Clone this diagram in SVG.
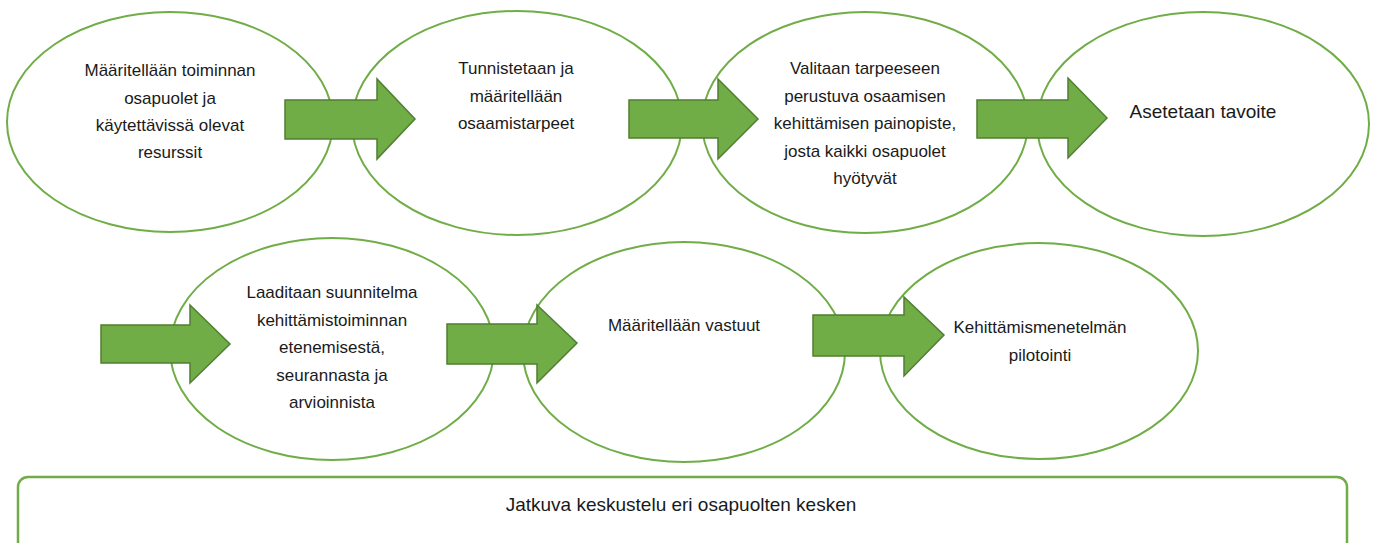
<svg xmlns="http://www.w3.org/2000/svg" width="1376" height="543" viewBox="0 0 1376 543">
<style>
.ell{fill:#ffffff;stroke:#70AD47;stroke-width:2}
.arr{fill:#70AD47;stroke:#507E32;stroke-width:1.5;stroke-linejoin:miter}
.t{font-family:"Liberation Sans",Arial,sans-serif;font-size:17px;fill:#1a1a1a;text-anchor:middle}
.tl{font-size:19px}
.box{fill:#ffffff;stroke:#70AD47;stroke-width:2.5}
</style>
<rect width="1376" height="543" fill="#ffffff"/>
<g id="n1"><ellipse class="ell" cx="170" cy="122" rx="163" ry="110"/>
<text class="t"><tspan x="170" y="76">Määritellään toiminnan</tspan><tspan x="170" y="103.5">osapuolet ja</tspan><tspan x="170" y="131">käytettävissä olevat</tspan><tspan x="170" y="158">resurssit</tspan></text></g>
<g id="n2"><ellipse class="ell" cx="517" cy="123" rx="165" ry="112"/>
<text class="t"><tspan x="516" y="74">Tunnistetaan ja</tspan><tspan x="516" y="101.5">määritellään</tspan><tspan x="516" y="129">osaamistarpeet</tspan></text></g>
<g id="n3"><ellipse class="ell" cx="865" cy="122.5" rx="163" ry="110.5"/>
<text class="t"><tspan x="865" y="74">Valitaan tarpeeseen</tspan><tspan x="865" y="101.5">perustuva osaamisen</tspan><tspan x="865" y="129">kehittämisen painopiste,</tspan><tspan x="865" y="156.5">josta kaikki osapuolet</tspan><tspan x="865" y="184">hyötyvät</tspan></text></g>
<g id="n4"><ellipse class="ell" cx="1203" cy="124" rx="166" ry="112"/>
<text class="t tl" x="1203" y="118">Asetetaan tavoite</text></g>
<g id="n5"><ellipse class="ell" cx="332" cy="349" rx="162" ry="111"/>
<text class="t"><tspan x="332" y="298">Laaditaan suunnitelma</tspan><tspan x="332" y="325.5">kehittämistoiminnan</tspan><tspan x="332" y="353">etenemisestä,</tspan><tspan x="332" y="380.5">seurannasta ja</tspan><tspan x="332" y="408">arvioinnista</tspan></text></g>
<g id="n6"><ellipse class="ell" cx="684" cy="352" rx="161" ry="110"/>
<text class="t" x="684" y="331">Määritellään vastuut</text></g>
<g id="n7"><ellipse class="ell" cx="1039" cy="351" rx="159" ry="108"/>
<text class="t"><tspan x="1040" y="333">Kehittämismenetelmän</tspan><tspan x="1040" y="360.5">pilotointi</tspan></text></g>
<g id="n8"><rect class="box" x="18" y="477" width="1329" height="90" rx="10"/>
<text class="t tl" x="681" y="511">Jatkuva keskustelu eri osapuolten kesken</text></g>
<g id="connectors">
<polygon class="arr" points="285,100 377,100 377,79 415,119 377,159 377,139 285,139"/>
<polygon class="arr" points="629,100 718,100 718,79 758,119 718,159 718,138 629,138"/>
<polygon class="arr" points="977,100 1068,100 1068,78 1107,118 1068,158 1068,138 977,138"/>
<polygon class="arr" points="101,325 190,325 190,305 230,344 190,383 190,363 101,363"/>
<polygon class="arr" points="447,324 537,324 537,305 577,343 537,383 537,364 447,364"/>
<polygon class="arr" points="813,315 904,315 904,297 944,335 904,376 904,356 813,356"/>
</g>
</svg>
